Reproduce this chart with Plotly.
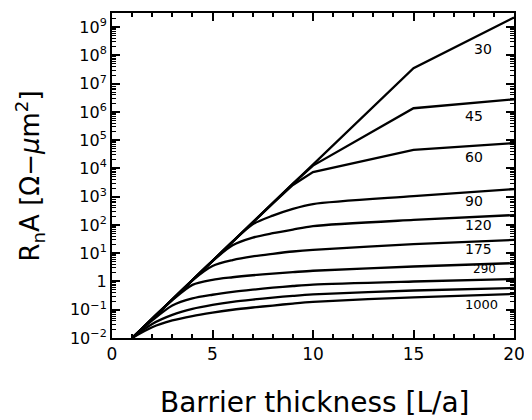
import math
import plotly.graph_objects as go

# Barrier thickness sample points [L/a]
thickness = [1, 2, 3, 4, 5, 6, 7, 8, 9, 10, 15, 20]

# R_n A values [Ohm-um^2] for each curve
ra_30 = [0.01, 0.048, 0.23, 1.12, 5.4, 26, 123, 590, 2900, 1.38e4, 3.5e7, 2.2e9]
ra_45 = [0.01, 0.048, 0.23, 1.12, 5.4, 26, 123, 590, 2880, 1.26e4, 1.35e6, 2.8e6]
ra_60 = [0.01, 0.048, 0.23, 1.12, 5.4, 26, 123, 580, 2600, 7400, 4.5e4, 7.9e4]
ra_90 = [0.01, 0.048, 0.23, 1.12, 5.4, 25.7, 105, 214, 372, 550, 1050, 1860]
ra_120 = [0.01, 0.048, 0.23, 1.12, 5.25, 19, 35.5, 51, 69, 91, 151, 224]
ra_175 = [0.01, 0.048, 0.23, 1.1, 3.55, 5.75, 7.76, 9.55, 11.5, 13.2, 20.9, 29.5]
ra_290 = [0.01, 0.048, 0.22, 0.76, 1.15, 1.41, 1.66, 1.9, 2.14, 2.4, 3.39, 4.47]
ra_500 = [0.01, 0.042, 0.141, 0.251, 0.339, 0.427, 0.513, 0.603, 0.692, 0.776, 1.0, 1.23]
ra_700 = [0.01, 0.0316, 0.066, 0.107, 0.148, 0.19, 0.229, 0.269, 0.309, 0.347, 0.479, 0.589]
ra_1000 = [0.01, 0.024, 0.0417, 0.060, 0.079, 0.1, 0.12, 0.141, 0.166, 0.19, 0.275, 0.363]

sharp_curves = [ra_30, ra_45, ra_60]
smooth_curves = [ra_90, ra_120, ra_175, ra_290, ra_500, ra_700, ra_1000]

# Curve labels and their positions (x in L/a, y in Ohm-um^2)
label_text = ["30", "45", "60", "90", "120", "175", "290", "1000"]
label_x = [18.45, 18.0, 18.0, 18.0, 18.25, 18.25, 18.55, 18.4]
label_y = [1.66e8, 7.1e5, 2.5e4, 720, 100, 14.1, 2.75, 0.158]
label_size = [14, 14, 14, 14, 14, 14, 12, 13]

y_tickvals = [1e-2, 1e-1, 1, 1e1, 1e2, 1e3, 1e4, 1e5, 1e6, 1e7, 1e8, 1e9]
y_ticktext = ["10<sup>−2</sup>", "10<sup>−1</sup>", "1", "10<sup>1</sup>", "10<sup>2</sup>",
              "10<sup>3</sup>", "10<sup>4</sup>", "10<sup>5</sup>", "10<sup>6</sup>",
              "10<sup>7</sup>", "10<sup>8</sup>", "10<sup>9</sup>"]
x_tickvals = [0, 5, 10, 15, 20]

FONT = "DejaVu Sans, sans-serif"

fig = go.Figure()
for c in sharp_curves:
    fig.add_trace(go.Scatter(x=thickness, y=c, mode="lines",
                             line=dict(color="black", width=2.3),
                             showlegend=False, hoverinfo="skip"))
for c in smooth_curves:
    fig.add_trace(go.Scatter(x=thickness, y=c, mode="lines",
                             line=dict(color="black", width=2.3, shape="spline", smoothing=0.8),
                             showlegend=False, hoverinfo="skip"))

for t, lx, ly, fs in zip(label_text, label_x, label_y, label_size):
    fig.add_annotation(x=lx, y=math.log10(ly), text=t, showarrow=False,
                       font=dict(size=fs, color="black", family=FONT),
                       xanchor="center", yanchor="middle")

fig.add_annotation(x=0.505, xref="paper", y=-0.197, yref="paper",
                   text="Barrier thickness [L/a]", showarrow=False,
                   font=dict(size=28, color="black", family=FONT),
                   xanchor="center", yanchor="middle")
fig.add_annotation(x=-0.204, xref="paper", y=0.5, yref="paper",
                   text="R<sub>n</sub>A [Ω−<i>μ</i>m<sup>2</sup>]", showarrow=False,
                   textangle=-90,
                   font=dict(size=26, color="black", family=FONT),
                   xanchor="center", yanchor="middle")

fig.update_xaxes(range=[0, 20], tickvals=x_tickvals, automargin=False,
                 ticks="inside", ticklen=8, tickwidth=1.5, tickcolor="black",
                 showline=True, linecolor="black", linewidth=2, mirror="allticks",
                 showgrid=False, zeroline=False,
                 tickfont=dict(size=17, color="black", family=FONT),
                 minor=dict(dtick=1, ticks="inside", ticklen=4, tickwidth=1.5,
                            tickcolor="black", showgrid=False))
fig.update_yaxes(type="log", range=[-2, 9.5], tickvals=y_tickvals, ticktext=y_ticktext,
                 automargin=False,
                 ticks="inside", ticklen=8, tickwidth=1.5, tickcolor="black",
                 showline=True, linecolor="black", linewidth=2, mirror="allticks",
                 showgrid=False, zeroline=False,
                 tickfont=dict(size=16, color="black", family=FONT),
                 minor=dict(dtick="D1", ticks="inside", ticklen=4, tickwidth=1,
                            tickcolor="black", showgrid=False))

fig.update_layout(width=524, height=412,
                  margin=dict(l=104, r=18, t=5, b=82),
                  paper_bgcolor="white", plot_bgcolor="white",
                  showlegend=False)

fig.write_html("out.html")
